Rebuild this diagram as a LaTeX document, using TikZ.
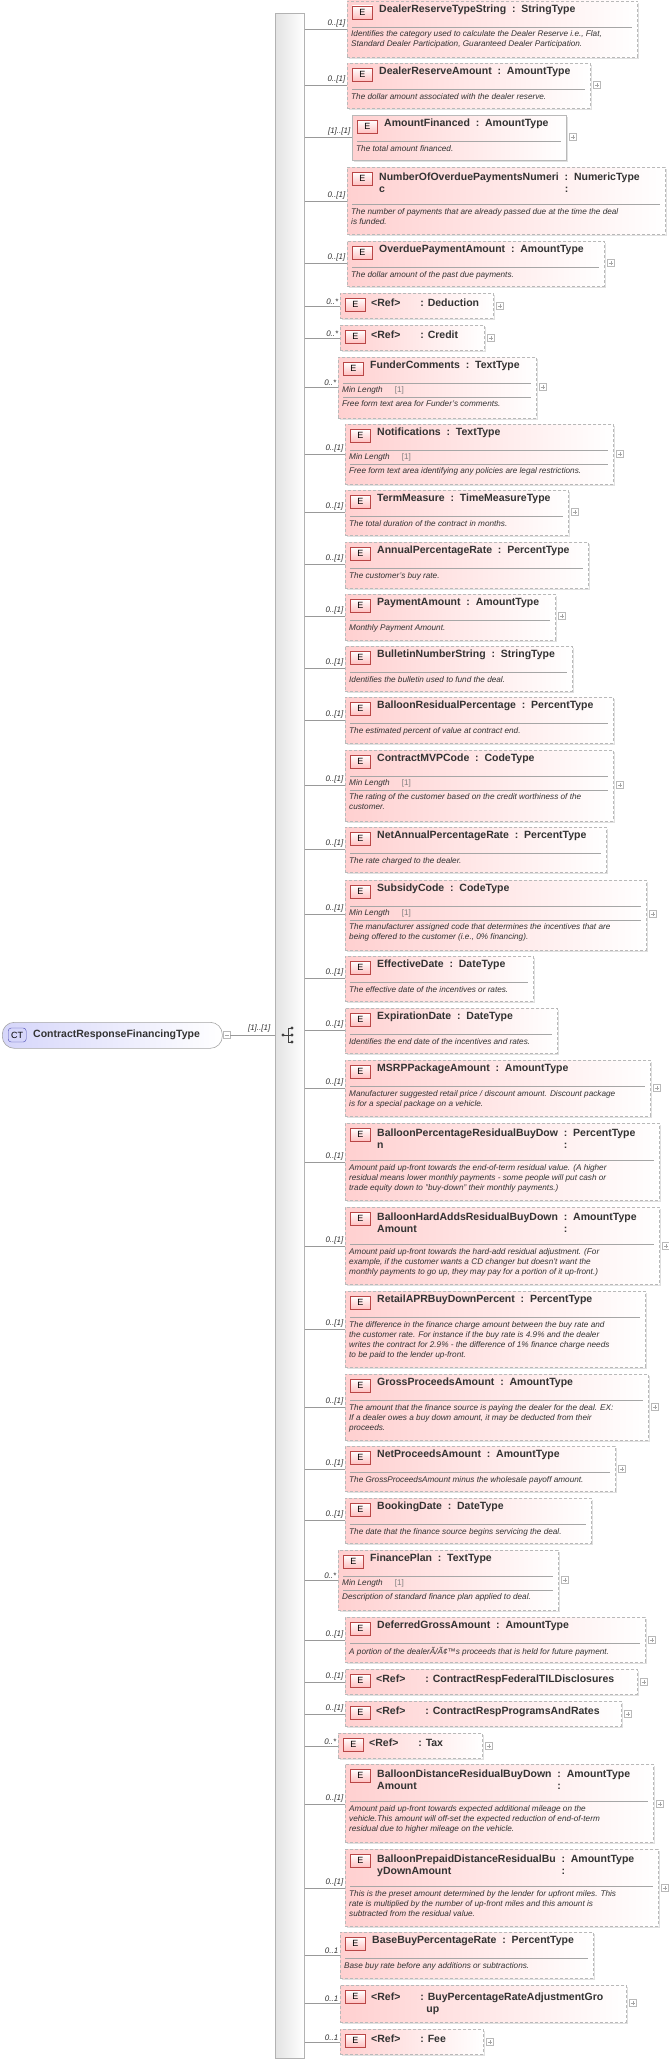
\documentclass[tikz,border=0pt]{standalone}
\usepackage{fontspec}
\setmainfont{Liberation Sans}
\usetikzlibrary{shadows}
\definecolor{epink}{RGB}{255,208,208}
\definecolor{eedge}{RGB}{185,185,185}
\definecolor{ctlav}{RGB}{214,214,250}
\tikzset{
  ebase/.style={rectangle, inner sep=0pt, draw=eedge, line width=0.8pt, left color=epink, right color=white,
     drop shadow={shadow xshift=2pt, shadow yshift=-2pt, fill=black!12, opacity=1}},
  edash/.style={ebase, dashed, dash pattern=on 3pt off 2pt},
  esolid/.style={ebase},
  eicon/.style={rectangle, draw=red!45!gray, line width=0.6pt, top color=white, bottom color=red!25, minimum width=20pt, minimum height=13pt, inner sep=0pt, font=\fontsize{9}{9}\selectfont},
  etitle/.style={inner sep=0pt, font=\fontsize{10.5}{13}\selectfont\bfseries, text=black!80, align=left},
  edesc/.style={inner sep=0pt, font=\fontsize{8.2}{10}\selectfont\itshape, text=black!80, align=left},
  emult/.style={inner sep=0.5pt, font=\fontsize{8}{9}\selectfont\itshape, text=black!80},
  conn/.style={draw=gray!80, line width=0.6pt},
  sepline/.style={draw=gray!70, line width=0.6pt},
  plusbox/.style={rectangle, draw=gray!55, fill=white, minimum size=7pt, inner sep=0pt,
    path picture={\draw[gray!70, line width=0.4pt] ([xshift=1.5pt]path picture bounding box.west) -- ([xshift=-1.5pt]path picture bounding box.east) ([yshift=1.5pt]path picture bounding box.south) -- ([yshift=-1.5pt]path picture bounding box.north);}},
}
% id x1 y1 x2 y2 ly mult style plus
\newcommand\ebox[9]{%
  \node[#8, minimum width={(#4-#2)*1pt}, minimum height={(#5-#3)*1pt}, anchor=north west] (#1) at (#2,#3) {};
  \node[eicon, anchor=north west] (#1-e) at ({#2+5},{#3+5}) {E};
  \coordinate (#1-in) at (#2,#6);
  \draw[conn] (spine.east |- #1-in) -- (#1-in);
  \node[emult, anchor=south east] (#1-m) at ({#2-1},{#6-1}) {#7};
  \ifx\relax#9\relax\else\node[plusbox, anchor=west] (#1-p) at ({#4+3},#6) {};\fi
}
% id title sep descoffset desc
\newcommand\etext[5]{%
  \node[etitle, anchor=north west] (#1-t) at ([xshift=32pt,yshift=-4pt]#1.north west) {#2};
  \draw[sepline] ([xshift=5pt,yshift={-#3*1pt}]#1.north west) -- ([xshift=-6pt,yshift={-#3*1pt}]#1.north east);
  \node[edesc, anchor=north west] (#1-d) at ([xshift=4pt,yshift={-(#4)*1pt}]#1.north west) {#5};
}
\newcommand\eminlen[2]{%
  \node[edesc, anchor=west] (#1-ml) at ([xshift=4pt,yshift={-(#2+7)*1pt}]#1.north west) {Min Length\hspace{12pt}{\upshape\color{gray}[1]}};
  \draw[sepline] ([xshift=5pt,yshift={-(#2+14)*1pt}]#1.north west) -- ([xshift=-6pt,yshift={-(#2+14)*1pt}]#1.north east);
}
\newcommand\rtitle[2]{\node[etitle, anchor=north west] (#1-t) at ([xshift=31pt,yshift=-6pt]#1.north west) {<Ref>\hspace{20pt}: #2};}
\newcommand\ty[2]{#1~~:~~#2}
\newcommand\tyy[3]{\begin{tabular}{@{}l@{~~:~~}l@{}}#1 & #3\\[-1pt] #2 & \end{tabular}}
\begin{document}
\begin{tikzpicture}[x=1pt,y=-1pt]
\useasboundingbox (0,0) rectangle (669,2061);
% spine
\node[rectangle, draw=gray!60, line width=0.6pt, left color=gray!22, right color=white, minimum width=29pt, minimum height=2045pt, inner sep=0pt, anchor=north west] (spine) at (275,13) {};
% root
\node[rectangle, rounded corners=12pt, draw=gray!70, line width=0.6pt, left color=ctlav, right color=white, minimum width=220pt, minimum height=26pt, inner sep=0pt, anchor=north west] (ct) at (2,1022) {};
\node[rectangle, rounded corners=3pt, draw=blue!40!gray, fill=ctlav, minimum width=18pt, minimum height=14pt, inner sep=0pt, font=\fontsize{9}{9}\selectfont, anchor=west] (cticon) at (8,1035) {CT};
\node[etitle, anchor=west] (ctname) at (33,1035) {ContractResponseFinancingType};
\node[plusbox, path picture={\draw[gray!70, line width=0.4pt] ([xshift=1.5pt]path picture bounding box.west) -- ([xshift=-1.5pt]path picture bounding box.east);}, anchor=west] (ctminus) at (223,1035) {};
\draw[conn] (ctminus.east) -- (spine.west |- ctminus.east);
\node[emult, anchor=south east] (ctmult) at (271,1033) {[1]..[1]};
% sequence icon
\coordinate (sq) at (283,1035);
\fill[black!75] (sq) circle (1.6);
\draw[black!75, line width=0.8pt] (sq) -- (288,1035) (288,1028) -- (288,1042) (288,1028) -- (292,1028) (288,1035) -- (292,1035) (288,1042) -- (292,1042);
\fill[black!75] (292,1028) circle (1.6) (292,1035) circle (1.6) (292,1042) circle (1.6);

% elements
\ebox{a1}{347}{0.5}{637}{57}{29}{0..[1]}{edash}{}
\etext{a1}{\ty{DealerReserveTypeString}{StringType}}{27}{30}{Identifies the category used to calculate the Dealer Reserve i.e., Flat,\\Standard Dealer Participation, Guaranteed Dealer Participation.}
\ebox{a2}{347}{63}{590}{108}{85}{0..[1]}{edash}{p}
\etext{a2}{\ty{DealerReserveAmount}{AmountType}}{26}{30}{The dollar amount associated with the dealer reserve.}
\ebox{a3}{352}{115}{566}{160}{137}{[1]..[1]}{esolid}{p}
\etext{a3}{\ty{AmountFinanced}{AmountType}}{26}{30}{The total amount financed.}
\ebox{a4}{347}{167}{665}{234}{201}{0..[1]}{edash}{}
\etext{a4}{\tyy{NumberOfOverduePaymentsNumeri}{c}{NumericType}}{37}{41}{The number of payments that are already passed due at the time the deal\\is funded.}
\ebox{a5}{347}{241}{604}{286}{263}{0..[1]}{edash}{p}
\etext{a5}{\ty{OverduePaymentAmount}{AmountType}}{26}{30}{The dollar amount of the past due payments.}
\ebox{a6}{340}{293}{493}{318}{306}{0..*}{edash}{p}
\rtitle{a6}{Deduction}
\ebox{a7}{340}{325}{484}{350}{338}{0..*}{edash}{p}
\rtitle{a7}{Credit}
\ebox{a8}{338}{357}{536}{418}{387}{0..*}{edash}{p}
\etext{a8}{\ty{FunderComments}{TextType}}{26}{43}{Free form text area for Funder's comments.}
\eminlen{a8}{26}
\ebox{a9}{345}{424}{613}{484}{454}{0..[1]}{edash}{p}
\etext{a9}{\ty{Notifications}{TextType}}{26}{43}{Free form text area identifying any policies are legal restrictions.}
\eminlen{a9}{26}
\ebox{a10}{345}{490}{568}{535}{512}{0..[1]}{edash}{p}
\etext{a10}{\ty{TermMeasure}{TimeMeasureType}}{26}{30}{The total duration of the contract in months.}
\ebox{a11}{345}{542}{588}{588}{564}{0..[1]}{edash}{}
\etext{a11}{\ty{AnnualPercentageRate}{PercentType}}{26}{30}{The customer's buy rate.}
\ebox{a12}{345}{594}{555}{640}{616}{0..[1]}{edash}{p}
\etext{a12}{\ty{PaymentAmount}{AmountType}}{26}{30}{Monthly Payment Amount.}
\ebox{a13}{345}{646}{572}{691}{668}{0..[1]}{edash}{}
\etext{a13}{\ty{BulletinNumberString}{StringType}}{26}{30}{Identifies the bulletin used to fund the deal.}
\ebox{a14}{345}{697}{613}{743}{720}{0..[1]}{edash}{}
\etext{a14}{\ty{BalloonResidualPercentage}{PercentType}}{26}{30}{The estimated percent of value at contract end.}
\ebox{a15}{345}{750}{613}{821}{785}{0..[1]}{edash}{p}
\etext{a15}{\ty{ContractMVPCode}{CodeType}}{26}{43}{The rating of the customer based on the credit worthiness of the\\customer.}
\eminlen{a15}{26}
\ebox{a16}{345}{827}{606}{872}{849}{0..[1]}{edash}{}
\etext{a16}{\ty{NetAnnualPercentageRate}{PercentType}}{26}{30}{The rate charged to the dealer.}
\ebox{a17}{345}{880}{646}{950}{914}{0..[1]}{edash}{p}
\etext{a17}{\ty{SubsidyCode}{CodeType}}{26}{43}{The manufacturer assigned code that determines the incentives that are\\being offered to the customer (i.e., 0\% financing).}
\eminlen{a17}{26}
\ebox{a18}{345}{956}{533}{1001}{978}{0..[1]}{edash}{}
\etext{a18}{\ty{EffectiveDate}{DateType}}{26}{30}{The effective date of the incentives or rates.}
\ebox{a19}{345}{1008}{557}{1053}{1030}{0..[1]}{edash}{}
\etext{a19}{\ty{ExpirationDate}{DateType}}{26}{30}{Identifies the end date of the incentives and rates.}
\ebox{a20}{345}{1060}{650}{1116}{1088}{0..[1]}{edash}{p}
\etext{a20}{\ty{MSRPPackageAmount}{AmountType}}{26}{30}{Manufacturer suggested retail price / discount amount. Discount package\\is for a special package on a vehicle.}
\ebox{a21}{345}{1123}{659}{1200}{1162}{0..[1]}{edash}{}
\etext{a21}{\tyy{BalloonPercentageResidualBuyDow}{n}{PercentType}}{37}{41}{Amount paid up-front towards the end-of-term residual value. (A higher\\residual means lower monthly payments - some people will put cash or\\trade equity down to "buy-down" their monthly payments.)}
\ebox{a22}{345}{1207}{659}{1284}{1246}{0..[1]}{edash}{p}
\etext{a22}{\tyy{BalloonHardAddsResidualBuyDown}{Amount}{AmountType}}{37}{41}{Amount paid up-front towards the hard-add residual adjustment. (For\\example, if the customer wants a CD changer but doesn't want the\\monthly payments to go up, they may pay for a portion of it up-front.)}
\ebox{a23}{345}{1291}{645}{1367}{1329}{0..[1]}{edash}{}
\etext{a23}{\ty{RetailAPRBuyDownPercent}{PercentType}}{26}{30}{The difference in the finance charge amount between the buy rate and\\the customer rate. For instance if the buy rate is 4.9\% and the dealer\\writes the contract for 2.9\% - the difference of 1\% finance charge needs\\to be paid to the lender up-front.}
\ebox{a24}{345}{1374}{648}{1440}{1407}{0..[1]}{edash}{p}
\etext{a24}{\ty{GrossProceedsAmount}{AmountType}}{26}{30}{The amount that the finance source is paying the dealer for the deal. EX:\\If a dealer owes a buy down amount, it may be deducted from their\\proceeds.}
\ebox{a25}{345}{1446}{615}{1491}{1469}{0..[1]}{edash}{p}
\etext{a25}{\ty{NetProceedsAmount}{AmountType}}{26}{30}{The GrossProceedsAmount minus the wholesale payoff amount.}
\ebox{a26}{345}{1498}{591}{1543}{1520}{0..[1]}{edash}{}
\etext{a26}{\ty{BookingDate}{DateType}}{26}{30}{The date that the finance source begins servicing the deal.}
\ebox{a27}{338}{1550}{558}{1610}{1580}{0..*}{edash}{p}
\etext{a27}{\ty{FinancePlan}{TextType}}{26}{43}{Description of standard finance plan applied to deal.}
\eminlen{a27}{26}
\ebox{a28}{345}{1617}{645}{1662}{1640}{0..[1]}{edash}{p}
\etext{a28}{\ty{DeferredGrossAmount}{AmountType}}{26}{30}{A portion of the dealerÃ/Ã¢™s proceeds that is held for future payment.}
\ebox{a29}{345}{1669}{637}{1694}{1682}{0..[1]}{edash}{p}
\rtitle{a29}{ContractRespFederalTILDisclosures}
\ebox{a30}{345}{1701}{621}{1726}{1714}{0..[1]}{edash}{p}
\rtitle{a30}{ContractRespProgramsAndRates}
\ebox{a31}{338}{1733}{482}{1758}{1746}{0..*}{edash}{p}
\rtitle{a31}{Tax}
\ebox{a32}{345}{1764}{653}{1842}{1804}{0..[1]}{edash}{p}
\etext{a32}{\tyy{BalloonDistanceResidualBuyDown}{Amount}{AmountType}}{37}{41}{Amount paid up-front towards expected additional mileage on the\\vehicle.This amount will off-set the expected reduction of end-of-term\\residual due to higher mileage on the vehicle.}
\ebox{a33}{345}{1849}{658}{1926}{1888}{0..[1]}{edash}{p}
\etext{a33}{\tyy{BalloonPrepaidDistanceResidualBu}{yDownAmount}{AmountType}}{37}{41}{This is the preset amount determined by the lender for upfront miles. This\\rate is multiplied by the number of up-front miles and this amount is\\subtracted from the residual value.}
\ebox{a34}{340}{1932}{593}{1978}{1955}{0..1}{edash}{}
\etext{a34}{\ty{BaseBuyPercentageRate}{PercentType}}{26}{30}{Base buy rate before any additions or subtractions.}
\ebox{a35}{340}{1985}{626}{2022}{2003}{0..1}{edash}{p}
\node[etitle, anchor=north west] (a35-t) at ([xshift=31pt,yshift=-6pt]a35.north west) {\begin{tabular}{@{}l@{\hspace{20pt}}l@{}}<Ref> & : BuyPercentageRateAdjustmentGro\\[-1pt] & \hspace{6pt}up\end{tabular}};
\ebox{a36}{340}{2029}{483}{2054}{2042}{0..1}{edash}{p}
\rtitle{a36}{Fee}
\end{tikzpicture}
\end{document}
